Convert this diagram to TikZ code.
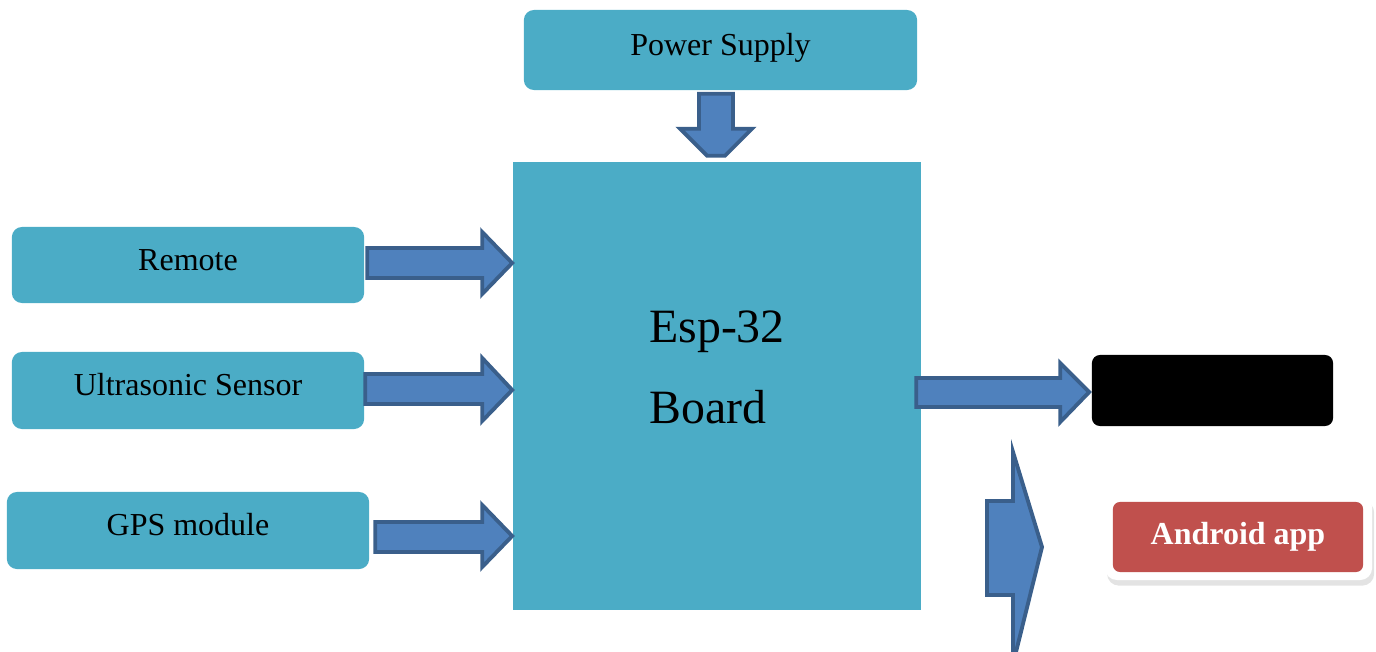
\documentclass[tikz,border=0pt]{standalone}
\usepackage{fontspec}
\setmainfont{Liberation Serif}
\usetikzlibrary{shadows}
\definecolor{boxteal}{HTML}{4BACC6}
\definecolor{arrowblue}{HTML}{4F81BD}
\definecolor{arrowedge}{HTML}{3A5F8B}
\definecolor{appred}{HTML}{C0504D}
\tikzset{
  unitbox/.style={fill=boxteal, draw=none, rounded corners=0.1cm, inner sep=0pt,
    font=\fontsize{9.1}{11}\selectfont, text height=6.4pt, text depth=3.4pt},
  boardbox/.style={fill=boxteal, draw=none, inner sep=0pt},
  boardlabel/.style={font=\fontsize{13.6}{23}\selectfont, align=left},
  hidebox/.style={fill=black, draw=none, rounded corners=0.08cm, inner sep=0pt},
  appframe/.style={fill=white, draw=none, rounded corners=0.12cm, inner sep=0pt,
    drop shadow={opacity=0.22, shadow xshift=0.6pt, shadow yshift=-1.6pt}},
  appbox/.style={fill=appred, draw=none, rounded corners=0.07cm, inner sep=0pt, text=white,
    font=\fontsize{9.1}{11}\selectfont\bfseries},
  blockarrow/.style={fill=arrowblue, draw=arrowedge, line width=1.1pt, line join=miter},
}

\begin{document}
\begin{tikzpicture}[x=0.01cm, y=-0.01cm]
\useasboundingbox (0,0) rectangle (1376,651);
\node[unitbox, minimum width=3.93cm, minimum height=0.80cm] (power) at (720.5,50) {Power Supply};
\node[unitbox, minimum width=3.52cm, minimum height=0.76cm] (remote) at (188,265) {Remote};
\node[unitbox, minimum width=3.52cm, minimum height=0.77cm] (sonar) at (188,390.5) {Ultrasonic Sensor};
\node[unitbox, minimum width=3.62cm, minimum height=0.77cm] (gps) at (188,530.5) {GPS module};
\draw[blockarrow, shift={(power.south -| 716,0)}] (-17,3) -- (17,3) -- (17,38) -- (36,38) -- (9,65) -- (-9,65) -- (-36,38) -- (-17,38) -- cycle;
\node[boardbox, minimum width=4.08cm, minimum height=4.48cm] (esp) at (717,386) {};
\node[boardlabel] (esplabel) at (717,367) {Esp-32\\Board};
\node[hidebox, minimum width=2.41cm, minimum height=0.71cm] (screen) at (1212.5,390.5) {};
\node[appframe, minimum width=2.67cm, minimum height=0.85cm] (appframe) at (1238.5,537.5) {};
\node[appbox, minimum width=2.50cm, minimum height=0.70cm] (app) at (1238,537) {Android app};
\draw[blockarrow, shift={(esp.west |- remote.east)}] (-145,-17) -- (-30,-17) -- (-30,-33) -- (0,-2) -- (-30,29) -- (-30,13) -- (-145,13) -- cycle;
\draw[blockarrow, shift={(esp.west |- sonar.east)}] (-147,-16.5) -- (-30,-16.5) -- (-30,-32.5) -- (0,-0.5) -- (-30,30.5) -- (-30,13.5) -- (-147,13.5) -- cycle;
\draw[blockarrow, shift={(esp.west |- gps.east)}] (-137,-8.5) -- (-30,-8.5) -- (-30,-25.5) -- (0,5.5) -- (-30,36.5) -- (-30,21.5) -- (-137,21.5) -- cycle;
\draw[blockarrow, shift={(screen.west)}] (-175,-12.5) -- (-31,-12.5) -- (-31,-27.5) -- (-2,1.5) -- (-31,31.5) -- (-31,16.5) -- (-175,16.5) -- cycle;
\draw[blockarrow] (987,501) -- (1013,501) -- (1013,452) -- (1042,547) -- (1013,664) -- (1013,595) -- (987,595) -- cycle;
\end{tikzpicture}
\end{document}
